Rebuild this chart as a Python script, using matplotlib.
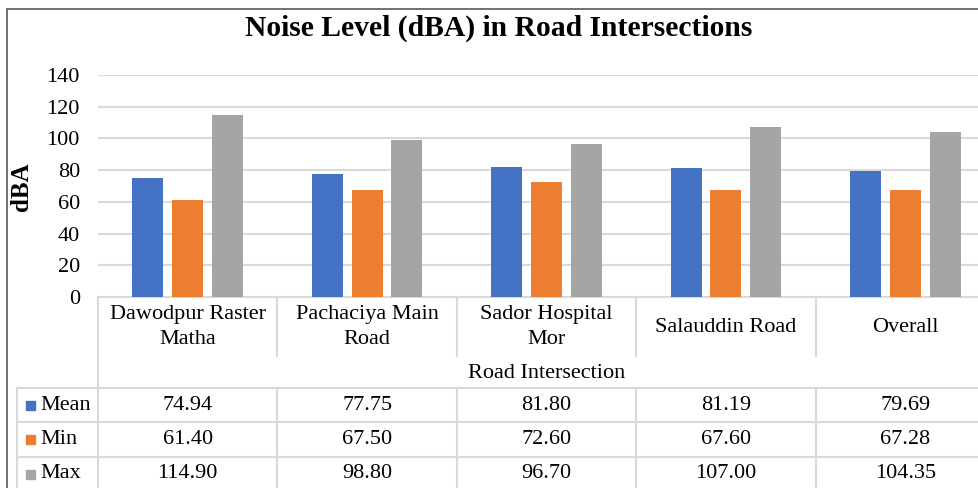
import matplotlib.pyplot as plt
import numpy as np
from matplotlib.lines import Line2D
from matplotlib.patches import Rectangle

plt.rcParams['font.family'] = ['Liberation Serif', 'DejaVu Serif']

categories = ["Dawodpur Raster\nMatha", "Pachaciya Main\nRoad", "Sador Hospital\nMor",
              "Salauddin Road", "Overall"]
series_names = ["Mean", "Min", "Max"]
mean_vals = [74.94, 77.75, 81.80, 81.19, 79.69]
min_vals = [61.40, 67.50, 72.60, 67.60, 67.28]
max_vals = [114.90, 98.80, 96.70, 107.00, 104.35]
colors = ["#4472C4", "#ED7D31", "#A5A5A5"]
grid_c = "#D9D9D9"

W, H = 979, 488
fig = plt.figure(figsize=(W / 100, H / 100), dpi=100)


def fx(px):
    return px / W


def fy(py):
    return 1 - py / H


# chart border (cut off on right and bottom like the source)
fig.add_artist(Rectangle((fx(7), fy(H + 20)), fx(W + 20), fy(9) - fy(H + 20),
                         transform=fig.transFigure, fill=False,
                         edgecolor="#595959", linewidth=1.2))

fig.text(fx(499), fy(28), "Noise Level (dBA) in Road Intersections",
         ha="center", va="center", fontsize=21.3, fontweight="bold")

# plot area
x_left, x_right = 98, 995
y_top, y_zero = 75, 297
ax = fig.add_axes([fx(x_left), fy(y_zero), fx(x_right - x_left), fy(y_top) - fy(y_zero)])

x = np.arange(len(categories))
bw = 0.173
offs = [-0.222, 0, 0.222]
for vals, c, o in zip([mean_vals, min_vals, max_vals], colors, offs):
    ax.bar(x + o, vals, bw, color=c, zorder=3)

ax.set_xlim(-0.5, len(categories) - 0.5)
ax.set_ylim(0, 140)
ax.set_yticks(range(0, 141, 20))
ax.yaxis.grid(True, color=grid_c, linewidth=1.5, zorder=0)
ax.set_xticks([])
ax.tick_params(axis="y", length=0, labelsize=16, pad=13)
for s in ["top", "right", "left"]:
    ax.spines[s].set_visible(False)
ax.spines["bottom"].set_color(grid_c)
ax.spines["bottom"].set_linewidth(1.5)

fig.text(fx(22), fy(187), "dBA", rotation=90, ha="center", va="center",
         fontsize=18, fontweight="bold")

# data table
col_x = [x_left + i * (x_right - x_left) / len(categories) for i in range(len(categories) + 1)]
row_y = [388, 422, 457, 491]
key_x = 17


def hline(y, x0, x1):
    fig.add_artist(Line2D([fx(x0), fx(x1)], [fy(y), fy(y)], color=grid_c, linewidth=1.5))


def vline(xx, y0, y1):
    fig.add_artist(Line2D([fx(xx), fx(xx)], [fy(y0), fy(y1)], color=grid_c, linewidth=1.5))


vline(x_left, y_zero, 492)
for cx in col_x[1:-1]:
    vline(cx, y_zero, 356)
    vline(cx, row_y[0], 492)
vline(key_x, row_y[0], 492)
for ry in row_y:
    hline(ry, key_x, x_right)

for i, cat in enumerate(categories):
    cx = (col_x[i] + col_x[i + 1]) / 2
    fig.text(fx(cx), fy(327), cat, ha="center", va="center", fontsize=16,
             multialignment="center", linespacing=1.42)

fig.text(fx((x_left + x_right) / 2), fy(373), "Road Intersection",
         ha="center", va="center", fontsize=16)

for r, (name, vals, c) in enumerate(zip(series_names, [mean_vals, min_vals, max_vals], colors)):
    yc = (row_y[r] + row_y[r + 1]) / 2
    fig.add_artist(Rectangle((fx(26), fy(yc + 4.5)), fx(9), fy(yc - 4.5) - fy(yc + 4.5),
                             transform=fig.transFigure, color=c))
    fig.text(fx(40), fy(yc), name, ha="left", va="center", fontsize=16)
    for i, v in enumerate(vals):
        cx = (col_x[i] + col_x[i + 1]) / 2
        fig.text(fx(cx), fy(yc), f"{v:.2f}", ha="center", va="center", fontsize=16)

fig.savefig("out.png", dpi=100)
